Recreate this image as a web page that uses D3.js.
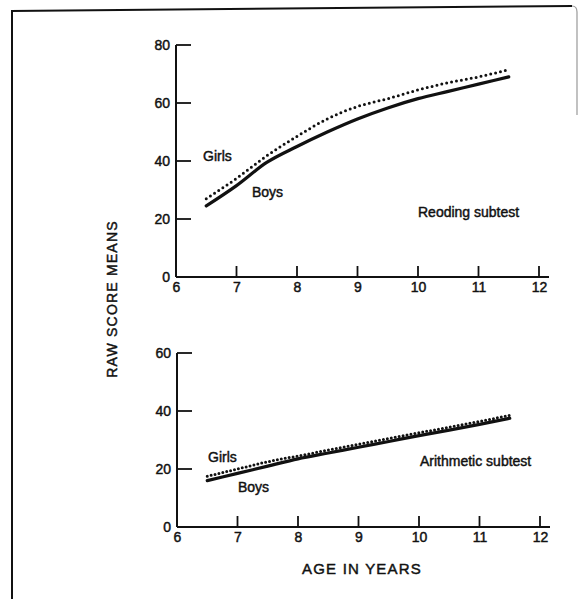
<!DOCTYPE html>
<html><head><meta charset="utf-8">
<script src="https://cdn.jsdelivr.net/npm/d3@7"></script>
<style>
body{margin:0;background:#fff;}
svg{display:block;}
text{font-family:"Liberation Sans",Arial,sans-serif;fill:#111;stroke:#111;stroke-width:0.45px;}
</style></head>
<body>
<svg id="c" width="579" height="599"></svg>
<script>
const ages = [6.5, 7, 7.5, 8, 8.5, 9, 9.5, 10, 10.5, 11, 11.5];
const readingBoys  = [24.5, 31.5, 39.5, 45, 50, 54.5, 58.3, 61.5, 64, 66.5, 69];
const readingGirls = [27, 34, 41.8, 48.5, 54.5, 58.8, 61.5, 64.5, 67, 69, 71.5];
const arithBoys    = [16, 18.5, 21, 23.5, 25.5, 27.5, 29.5, 31.5, 33.4, 35.4, 37.5];
const arithGirls   = [17.5, 20, 22.5, 24.5, 26.5, 28.5, 30.5, 32.5, 34.4, 36.4, 38.5];
const xTicks = [6, 7, 8, 9, 10, 11, 12];
const readingYTicks = [0, 20, 40, 60, 80];
const arithYTicks = [0, 20, 40, 60];

const svg = d3.select("#c");

// frame
svg.append("line").attr("x1",12).attr("x2",12).attr("y1",11).attr("y2",599)
  .attr("stroke","#111").attr("stroke-width",2);
svg.append("line").attr("x1",11).attr("x2",572).attr("y1",11).attr("y2",6)
  .attr("stroke","#111").attr("stroke-width",2);
svg.append("path").attr("d","M572,6 Q577,6 577,12 L577,115")
  .attr("fill","none").attr("stroke","#999").attr("stroke-width",1.2);

function panel(cfg){
  const x = d3.scaleLinear().domain([6,12]).range([cfg.x0, cfg.x0+363]);
  const y = d3.scaleLinear().domain([0,cfg.ymax]).range([cfg.y0, cfg.ytop]);
  const g = svg.append("g");

  // x axis
  const xa = g.append("g").attr("transform",`translate(0,${cfg.y0})`)
    .call(d3.axisBottom(x).tickValues(xTicks).tickSize(0).tickPadding(5).tickFormat(d3.format("d")));
  xa.select(".domain").remove();
  xa.selectAll("text").attr("font-size",14).attr("fill","#111");
  g.append("line").attr("x1",x(6)).attr("x2",x(12)+10).attr("y1",cfg.y0).attr("y2",cfg.y0)
    .attr("stroke","#111").attr("stroke-width",2);
  g.selectAll(".xt").data(xTicks.slice(1)).join("line")
    .attr("x1",d=>x(d)).attr("x2",d=>x(d)).attr("y1",cfg.y0).attr("y2",cfg.y0-11)
    .attr("stroke","#111").attr("stroke-width",1.8);

  // y axis
  const ya = g.append("g").attr("transform",`translate(${x(6)},0)`)
    .call(d3.axisLeft(y).tickValues(cfg.yTicks).tickSize(0).tickPadding(6));
  ya.select(".domain").remove();
  ya.selectAll("text").attr("font-size",14).attr("fill","#111");
  g.append("line").attr("x1",x(6)).attr("x2",x(6)).attr("y1",y(cfg.ymax)).attr("y2",cfg.y0)
    .attr("stroke","#111").attr("stroke-width",2);
  g.selectAll(".yt").data(cfg.yTicks.slice(1)).join("line")
    .attr("x1",x(6)).attr("x2",x(6)+15).attr("y1",d=>y(d)).attr("y2",d=>y(d))
    .attr("stroke","#111").attr("stroke-width",1.8);

  const line = d3.line().x((d,i)=>x(ages[i])).y(d=>y(d)).curve(d3.curveMonotoneX);
  g.append("path").attr("d",line(cfg.boys)).attr("fill","none")
    .attr("stroke","#111").attr("stroke-width",3.2).attr("stroke-linecap","round");
  g.append("path").attr("d",line(cfg.girls)).attr("fill","none")
    .attr("stroke","#111").attr("stroke-width",3).attr("stroke-linecap","round")
    .attr("stroke-dasharray",cfg.dash);

  cfg.labels.forEach(l=>{
    g.append("text").attr("x",l.x).attr("y",l.y).attr("font-size",14)
      .attr("dominant-baseline","middle").text(l.t);
  });
}

panel({x0:176, y0:277, ytop:45, ymax:80, yTicks:readingYTicks, boys:readingBoys, girls:readingGirls, dash:"0,5",
  labels:[{t:"Girls",x:203,y:157},{t:"Boys",x:252,y:193},{t:"Reoding subtest",x:418,y:213}]});
panel({x0:177, y0:527, ytop:353, ymax:60, yTicks:arithYTicks, boys:arithBoys, girls:arithGirls, dash:"0,4",
  labels:[{t:"Girls",x:208,y:458},{t:"Boys",x:238,y:488},{t:"Arithmetic subtest",x:420,y:462}]});

svg.append("text").attr("transform","translate(113,299) rotate(-90)").attr("text-anchor","middle")
  .attr("dominant-baseline","middle").attr("font-size",14).attr("letter-spacing",1.2).text("RAW SCORE MEANS");
svg.append("text").attr("x",362).attr("y",570).attr("text-anchor","middle")
  .attr("dominant-baseline","middle").attr("font-size",15).attr("letter-spacing",1.2).text("AGE IN YEARS");
</script>
</body></html>
